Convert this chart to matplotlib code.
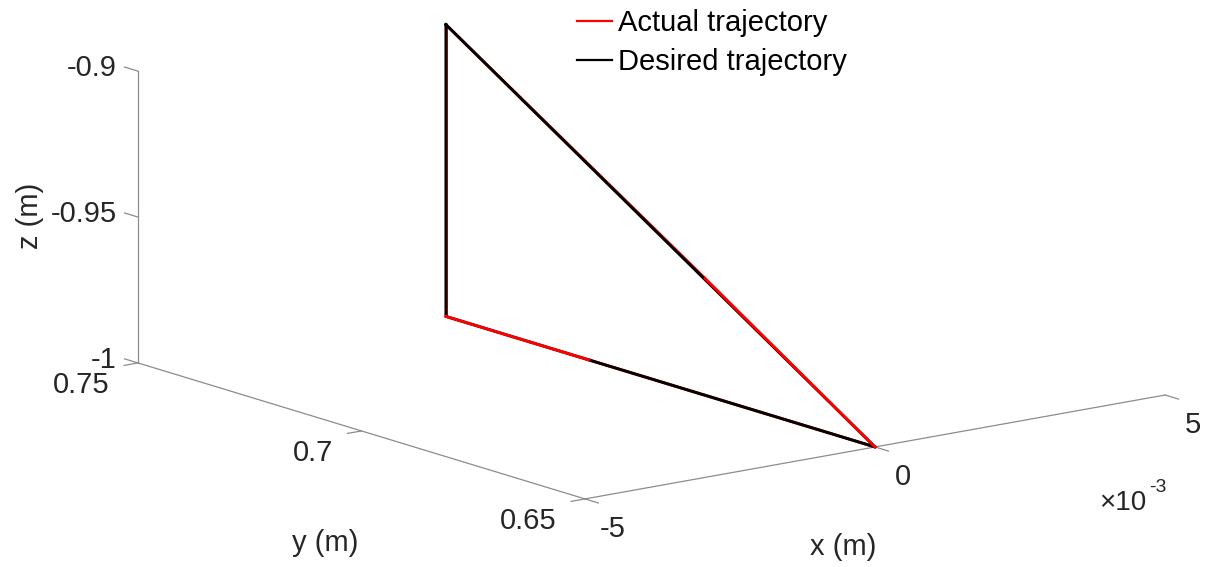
import numpy as np
import matplotlib
matplotlib.use('Agg')
import matplotlib.pyplot as plt
from mpl_toolkits.mplot3d import proj3d

plt.rcParams['font.family'] = ['Liberation Sans', 'DejaVu Sans']

W, H = 1214, 567

# desired path: triangle in the x = 0 plane
desired_x = [0.0, 0.0, 0.0, 0.0]
desired_y = [0.746, 0.65, 0.746, 0.746]
desired_z = [-0.9, -1.0, -1.0, -0.9]

# actual path, split where it shows on top of the desired one
actual_x = [0.0, 0.0, 0.0, 0.0, 0.0, 0.0]
actual_y = [0.746, 0.688, 0.65, 0.714, 0.746, 0.746]
actual_z = [-0.9, -0.96, -1.0, -1.0, -1.0, -0.9]
actual_on_top = [False, True, False, True, False]

x_lim = [-5e-3, 5e-3]
y_lim = [0.65, 0.75]
z_lim = [-1.0, -0.9]
x_ticks = [-5e-3, 0.0, 5e-3]
x_ticklabels = ['-5', '0', '5']
y_ticks = [0.75, 0.7, 0.65]
y_ticklabels = ['0.75', '0.7', '0.65']
z_ticks = [-1.0, -0.95, -0.9]
z_ticklabels = ['-1', '-0.95', '-0.9']

txt_color = '#262626'
ax_color = '#8c8c8c'

fig = plt.figure(figsize=(W / 100, H / 100), dpi=100)
ax = fig.add_axes([0, 0, 1, 1], projection='3d', computed_zorder=False)
ax.set_proj_type('ortho')
ax.set_xlim(x_lim)
ax.set_ylim(y_lim)
ax.set_zlim(z_lim)
ax.set_box_aspect((731, 734, 300), zoom=0.7)
ax.view_init(elev=13.5, azim=232.5)
ax.set_axis_off()
fig.canvas.draw()

# put the axes where the box corners sit in the original picture
M = ax.get_proj()
cx = np.array([x_lim[0], x_lim[1], x_lim[0], x_lim[0]])
cy = np.array([y_lim[0], y_lim[0], y_lim[1], y_lim[1]])
cz = np.array([z_lim[0], z_lim[0], z_lim[0], z_lim[1]])
u, v, _ = proj3d.proj_transform(cx, cy, cz, M)
px = np.array([585, 1165, 138, 138])
py = H - np.array([499, 395, 363, 71])
du, dv = u - u.mean(), v - v.mean()
s = ((du * (px - px.mean())).sum() + (dv * (py - py.mean())).sum()) / (du**2 + dv**2).sum()
ox = px.mean() - s * u.mean()
oy = py.mean() - s * v.mean()
vx0, vx1 = ax.viewLim.intervalx
vy0, vy1 = ax.viewLim.intervaly
ax.set_position([(s * vx0 + ox) / W, (s * vy0 + oy) / H,
                 s * (vx1 - vx0) / W, s * (vy1 - vy0) / H])

# box edges that carry the axes
axis_kw = dict(color=ax_color, lw=0.9, clip_on=False, zorder=1)
ax.plot([x_lim[0]] * 2, [y_lim[1]] * 2, z_lim, **axis_kw)
ax.plot([x_lim[0]] * 2, y_lim, [z_lim[0]] * 2, **axis_kw)
ax.plot(x_lim, [y_lim[0]] * 2, [z_lim[0]] * 2, **axis_kw)

dy_tick = 0.003
dx_tick = 0.00024
lab_kw = dict(xycoords='data', textcoords='offset pixels', fontsize=21,
              color=txt_color, annotation_clip=False)

for zt, lab in zip(z_ticks, z_ticklabels):
    ax.plot([x_lim[0]] * 2, [y_lim[1], y_lim[1] + dy_tick], [zt] * 2, **axis_kw)
    a, b, _ = proj3d.proj_transform(x_lim[0], y_lim[1], zt, M)
    ax.annotate(lab, xy=(a, b), xytext=(-21, 3), ha='right', va='center', **lab_kw)

for yt, lab in zip(y_ticks, y_ticklabels):
    ax.plot([x_lim[0], x_lim[0] - dx_tick], [yt] * 2, [z_lim[0]] * 2, **axis_kw)
    a, b, _ = proj3d.proj_transform(x_lim[0], yt, z_lim[0], M)
    ax.annotate(lab, xy=(a, b), xytext=(-28, -22), ha='right', va='center', **lab_kw)

for xt, lab in zip(x_ticks, x_ticklabels):
    ax.plot([xt] * 2, [y_lim[0], y_lim[0] - dy_tick], [z_lim[0]] * 2, **axis_kw)
    a, b, _ = proj3d.proj_transform(xt, y_lim[0], z_lim[0], M)
    ax.annotate(lab, xy=(a, b), xytext=(28, -30), ha='center', va='center', **lab_kw)

# trajectories
red_line = None
for i, top in enumerate(actual_on_top):
    ln, = ax.plot(actual_x[i:i + 2], actual_y[i:i + 2], actual_z[i:i + 2],
                  color='red', lw=2.1, clip_on=False, zorder=4 if top else 2)
    if red_line is None:
        red_line = ln
black_line, = ax.plot(desired_x, desired_y, desired_z, color='black', lw=2.1,
                      clip_on=False, zorder=3)

leg = fig.legend([red_line, black_line], ['Actual trajectory', 'Desired trajectory'],
                 loc='upper left', bbox_to_anchor=(577 / W, 1 - 9 / H), frameon=False,
                 fontsize=21, handlelength=1.2, handletextpad=0.2, labelspacing=0.38,
                 borderpad=0, borderaxespad=0)
for hl in leg.get_lines():
    hl.set_linewidth(1.6)

fig.text(843 / W, 1 - 547 / H, 'x (m)', fontsize=21, color=txt_color, ha='center', va='center')
fig.text(325 / W, 1 - 543 / H, 'y (m)', fontsize=21, color=txt_color, ha='center', va='center')
fig.text(30 / W, 1 - 216 / H, 'z (m)', fontsize=21, color=txt_color, ha='center', va='center',
         rotation=90)
# exponent of the x axis
fig.text(1099 / W, 1 - 503 / H, '\u00d710', fontsize=20, color=txt_color, ha='left', va='center')
fig.text(1149 / W, 1 - 488 / H, '-3', fontsize=14, color=txt_color, ha='left', va='center')

fig.savefig('out.png', dpi=100)
